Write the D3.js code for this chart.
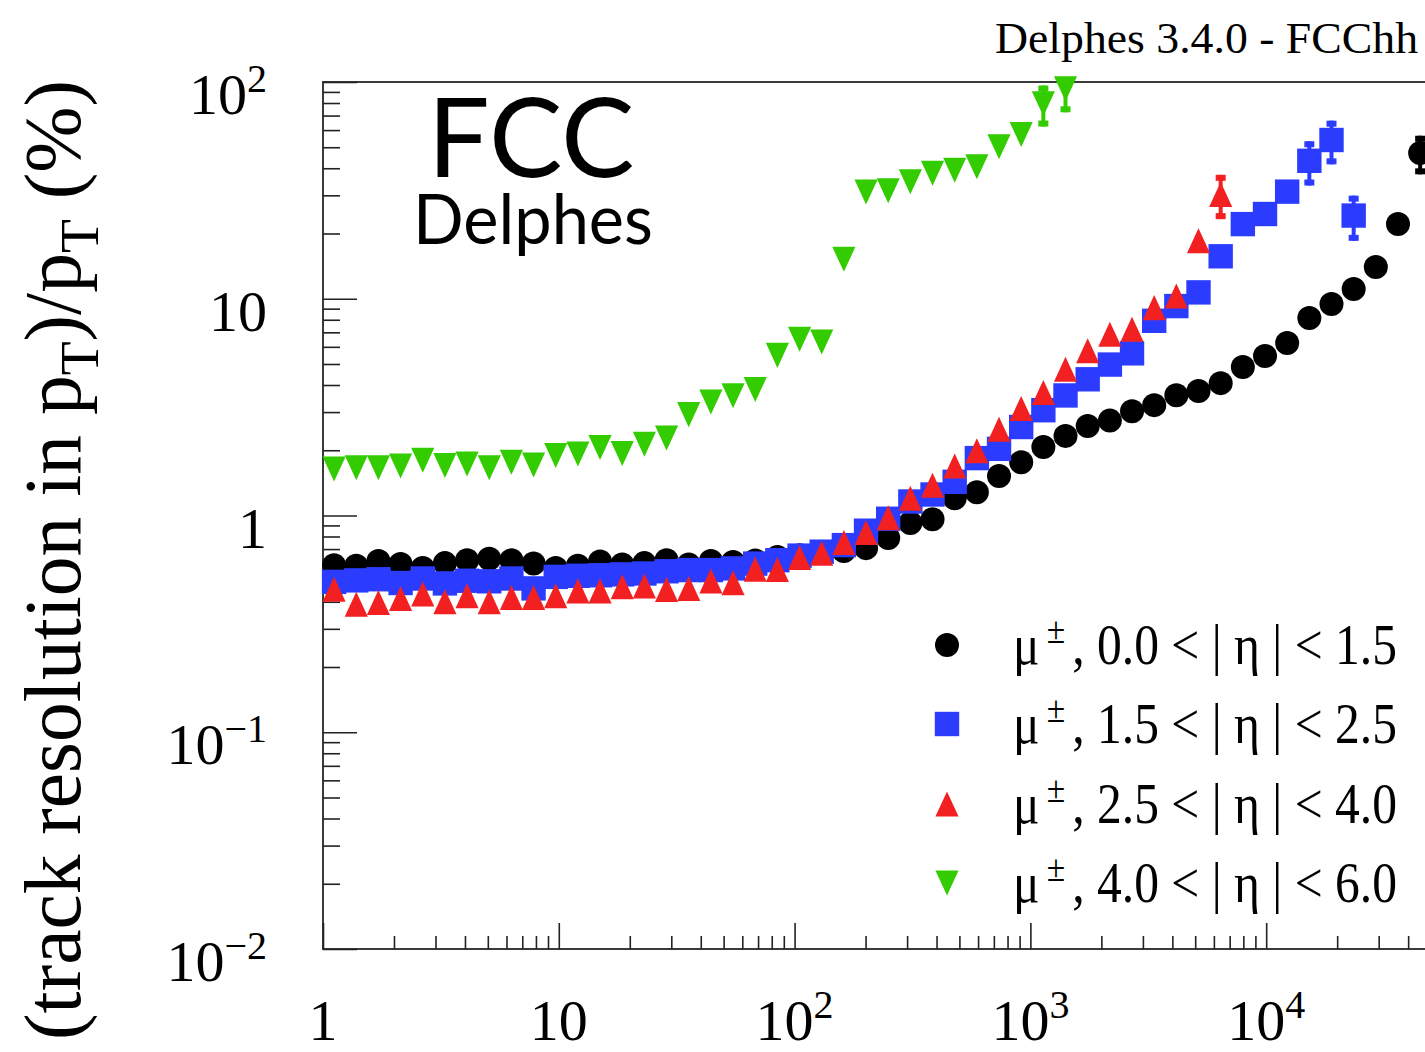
<!DOCTYPE html>
<html><head><meta charset="utf-8">
<script src="https://cdn.jsdelivr.net/npm/d3@7"></script>
<style>html,body{margin:0;padding:0;background:#fff;overflow:hidden}</style>
</head><body><svg id="c" width="1425" height="1052"></svg>
<script>
// ---------- data ----------
const pt = [1.114,1.384,1.718,2.133,2.649,3.289,4.083,5.070,6.295,7.816,
  9.705,12.05,14.96,18.58,23.07,28.64,35.56,44.16,54.83,68.08,
  84.53,105.0,130.3,161.8,200.9,249.5,309.7,384.6,477.5,592.9,
  736.2,914.1,1135,1409,1750,2173,2698,3350,4159,5164,
  6412,7962,9886,12274,15241,18923,23496,29174,36224,44978];

const resEta00_15 = [0.590,0.586,0.616,0.598,0.572,0.603,0.621,0.631,0.621,0.600,
  0.572,0.586,0.614,0.594,0.603,0.621,0.594,0.616,0.610,0.620,
  0.643,0.656,0.678,0.685,0.707,0.787,0.923,0.962,1.20,1.28,
  1.52,1.76,2.07,2.33,2.59,2.74,3.03,3.23,3.59,3.75,
  4.08,4.84,5.44,6.25,8.15,9.46,11.1,14.0,22.1,47.0];
const errEta00_15 = [0,0,0,0,0,0,0,0,0,0, 0,0,0,0,0,0,0,0,0,0, 0,0,0,0,0,0,0,0,0,0,
  0,0,0,0,0,0,0,0,0,0, 0,0,0,0,0,0,0,0,0,9.5];

const resEta15_25 = [0.494,0.502,0.508,0.488,0.512,0.486,0.500,0.497,0.512,0.461,
  0.521,0.527,0.530,0.535,0.540,0.553,0.560,0.560,0.570,0.600,
  0.622,0.653,0.681,0.730,0.851,0.966,1.16,1.25,1.43,1.84,
  2.03,2.56,3.06,3.58,4.25,4.97,5.60,7.91,9.25,10.7,
  15.7,22.1,24.6,31.2,43.3,54.0,24.2];
const errEta15_25 = [0,0,0,0,0,0,0,0,0,0, 0,0,0,0,0,0,0,0,0,0, 0,0,0,0,0,0,0,0,0,0,
  0,0,0,0,0,0,0,0,0,0, 0,0,0,0,10,12.3,5.7];

const resEta25_40 = [0.457,0.390,0.397,0.414,0.434,0.400,0.426,0.400,0.418,0.418,
  0.426,0.449,0.449,0.469,0.473,0.456,0.461,0.499,0.490,0.565,
  0.563,0.640,0.670,0.750,0.834,0.977,1.20,1.38,1.69,1.99,
  2.50,3.12,3.69,4.73,5.75,6.86,7.23,9.10,10.3,18.5,
  30.3];
const errEta25_40 = [0,0,0,0,0,0,0,0,0,0, 0,0,0,0,0,0,0,0,0,0, 0,0,0,0,0,0,0,0,0,0,
  0,0,0,0,0,0,0,0,0,0, 7];

const resEta40_60 = [1.64,1.66,1.66,1.69,1.80,1.70,1.73,1.66,1.76,1.71,
  1.89,1.92,2.06,1.93,2.13,2.28,2.92,3.34,3.57,3.81,
  5.48,6.51,6.31,15.2,31.1,31.5,34.7,37.9,39.2,40.6,
  50.3,57.3,79.3,93.0];
const errEta40_60 = [0,0,0,0,0,0,0,0,0,0, 0,0,0,0,0,0,0,0,0,0, 0,0,0,0,0,0,0,0,0,0,
  0,0,17,20.5];

const xTickValues = [1, 10, 100, 1000, 10000];
const xTickLabels = [["1",""],["10",""],["10","2"],["10","3"],["10","4"]];
const yTickValues = [0.01, 0.1, 1, 10, 100];
const yTickLabels = [["10","\u22122"],["10","\u22121"],["1",""],["10",""],["10","2"]];
const legendLabels = [", 0.0 < | \u03b7 | < 1.5", ", 1.5 < | \u03b7 | < 2.5", ", 2.5 < | \u03b7 | < 4.0", ", 4.0 < | \u03b7 | < 6.0"];
const titleText = "Delphes 3.4.0 - FCChh";

// ---------- styles ----------
const series = [
  {vals: resEta00_15, errs: errEta00_15, color: "#000000", shape: "circle"},
  {vals: resEta15_25, errs: errEta15_25, color: "#2b3cff", shape: "square"},
  {vals: resEta25_40, errs: errEta25_40, color: "#f22020", shape: "up"},
  {vals: resEta40_60, errs: errEta40_60, color: "#33cc00", shape: "down"}
];

const svg = d3.select("#c");
const X0 = 323, X1 = 1431, Y0 = 82, Y1 = 949;
const x = d3.scaleLog().domain([1, 50000]).range([X0, X1]);
const y = d3.scaleLog().domain([0.01, 100]).range([Y1, Y0]);
const serif = "'Liberation Serif','Times New Roman',serif";

function markerPath(shape, s) {
  if (shape === "circle") return `M${-s},0A${s},${s} 0 1,0 ${s},0A${s},${s} 0 1,0 ${-s},0Z`;
  if (shape === "square") return `M${-s},${-s}H${s}V${s}H${-s}Z`;
  if (shape === "up") return `M0,${-s*1.06}L${s*0.98},${s*1.06}L${-s*0.98},${s*1.06}Z`;
  return `M0,${s*1.06}L${s*0.98},${-s*1.06}L${-s*0.98},${-s*1.06}Z`;
}
const msize = {circle: 12, square: 12.2, up: 11.8, down: 11.8};

// frame
svg.append("rect").attr("x", X0).attr("y", Y0).attr("width", X1 - X0).attr("height", Y1 - Y0)
  .attr("fill", "none").attr("stroke", "#3a3a3a").attr("stroke-width", 2);

// ticks
const minorX = [];
for (let d = 1; d < 50000; d *= 10) for (let m = 2; m <= 9; m++) if (d * m <= 50000) minorX.push(d * m);
const minorY = [];
for (let d = 0.01; d < 100; d *= 10) for (let m = 2; m <= 9; m++) minorY.push(+(d * m).toPrecision(3));

function styleAxis(g) {
  g.select(".domain").remove();
  g.selectAll(".tick line").attr("stroke", "#222").attr("stroke-width", 1.6);
  g.selectAll(".tick text").remove();
}
svg.append("g").attr("transform", `translate(0,${Y1})`)
  .call(d3.axisTop(x).tickValues(xTickValues).tickSize(26).tickSizeOuter(0).tickFormat("")).call(styleAxis);
svg.append("g").attr("transform", `translate(0,${Y1})`)
  .call(d3.axisTop(x).tickValues(minorX).tickSize(13).tickSizeOuter(0).tickFormat("")).call(styleAxis);
svg.append("g").attr("transform", `translate(${X0},0)`)
  .call(d3.axisRight(y).tickValues(yTickValues).tickSize(34).tickSizeOuter(0).tickFormat("")).call(styleAxis);
svg.append("g").attr("transform", `translate(${X0},0)`)
  .call(d3.axisRight(y).tickValues(minorY).tickSize(17).tickSizeOuter(0).tickFormat("")).call(styleAxis);

// tick labels
xTickValues.forEach((v, i) => {
  const t = svg.append("text").attr("x", x(v)).attr("y", 1040).attr("text-anchor", "middle")
    .attr("font-family", serif).attr("font-size", 58).attr("fill", "#000");
  t.append("tspan").text(xTickLabels[i][0]);
  if (xTickLabels[i][1]) t.append("tspan").attr("dy", -22).attr("font-size", 40).text(xTickLabels[i][1]);
});
yTickValues.forEach((v, i) => {
  const t = svg.append("text").attr("x", 267).attr("y", y(v) + 32).attr("text-anchor", "end")
    .attr("font-family", serif).attr("font-size", 58).attr("fill", "#000");
  t.append("tspan").text(yTickLabels[i][0]);
  if (yTickLabels[i][1]) t.append("tspan").attr("dy", -22).attr("font-size", 40).text(yTickLabels[i][1]);
});

// y title
const yt = svg.append("text").attr("transform", "translate(80,560) rotate(-90)")
  .attr("text-anchor", "middle").attr("font-family", serif).attr("font-size", 76).attr("fill", "#000");
yt.append("tspan").text("(track resolution in p");
yt.append("tspan").attr("font-size", 53).attr("dy", 18).text("T");
yt.append("tspan").attr("dy", -18).text(")/p");
yt.append("tspan").attr("font-size", 53).attr("dy", 18).text("T");
yt.append("tspan").attr("dy", -18).text(" (%)");
{
  const L = yt.node().getComputedTextLength();
  if (L > 0) {
    const f = 960 / L;
    yt.attr("font-size", 76 * f);
    yt.selectAll("tspan").each(function() {
      const s = d3.select(this);
      if (s.attr("font-size")) s.attr("font-size", 53 * f);
    });
  }
}

// title
svg.append("text").attr("x", 995).attr("y", 53).attr("font-family", serif).attr("font-size", 45)
  .attr("textLength", 423).attr("lengthAdjust", "spacingAndGlyphs").attr("fill", "#000").text(titleText);

// FCC Delphes
svg.append("text").attr("x", 531).attr("y", 177).attr("text-anchor", "middle").attr("font-family", "Lato, 'Open Sans', sans-serif")
  .attr("font-size", 110).attr("fill", "#000").text("FCC");
svg.append("text").attr("x", 533).attr("y", 244).attr("text-anchor", "middle").attr("font-family", "Lato, 'Open Sans', sans-serif")
  .attr("font-size", 69).attr("textLength", 240).attr("lengthAdjust", "spacingAndGlyphs").attr("fill", "#000").text("Delphes");

// clip for error bars
svg.append("clipPath").attr("id", "fr").append("rect").attr("x", X0).attr("y", Y0).attr("width", X1 - X0).attr("height", Y1 - Y0);

// data
series.forEach(s => {
  const g = svg.append("g");
  const eg = g.append("g").attr("clip-path", "url(#fr)");
  s.vals.forEach((v, i) => {
    const e = s.errs[i];
    if (e > 0) {
      const cx = x(pt[i]), yt2 = y(v + e), yb = y(v - e);
      eg.append("line").attr("x1", cx).attr("x2", cx).attr("y1", yt2).attr("y2", yb)
        .attr("stroke", s.color).attr("stroke-width", 4);
      eg.append("rect").attr("x", cx - 5).attr("y", yt2).attr("width", 10).attr("height", 6).attr("fill", s.color);
      eg.append("rect").attr("x", cx - 5).attr("y", yb - 6).attr("width", 10).attr("height", 6).attr("fill", s.color);
    }
  });
  g.selectAll("path.m").data(s.vals).enter().append("path").attr("class", "m")
    .attr("transform", (v, i) => `translate(${x(pt[i])},${y(v)})`)
    .attr("d", markerPath(s.shape, msize[s.shape])).attr("fill", s.color);
});

// legend
const legY = [645, 724, 804, 883];
series.forEach((s, i) => {
  svg.append("path").attr("transform", `translate(947,${legY[i]})`)
    .attr("d", markerPath(s.shape, msize[s.shape])).attr("fill", s.color);
  const g = svg.append("g");
  const t = g.append("text").attr("x", 0).attr("y", 0).attr("font-family", serif)
    .attr("font-size", 56).attr("fill", "#000");
  t.append("tspan").text("\u03bc");
  t.append("tspan").attr("dy", -21).attr("dx", 8).attr("font-size", 38).text("\u00b1");
  t.append("tspan").attr("dy", 21).attr("dx", 8).text(legendLabels[i]);
  const w = t.node().getBBox().width;
  const sx = w > 0 ? 384 / w : 1;
  g.attr("transform", `translate(1013,${legY[i] + 19}) scale(${sx},1)`);
});
</script></body></html>
